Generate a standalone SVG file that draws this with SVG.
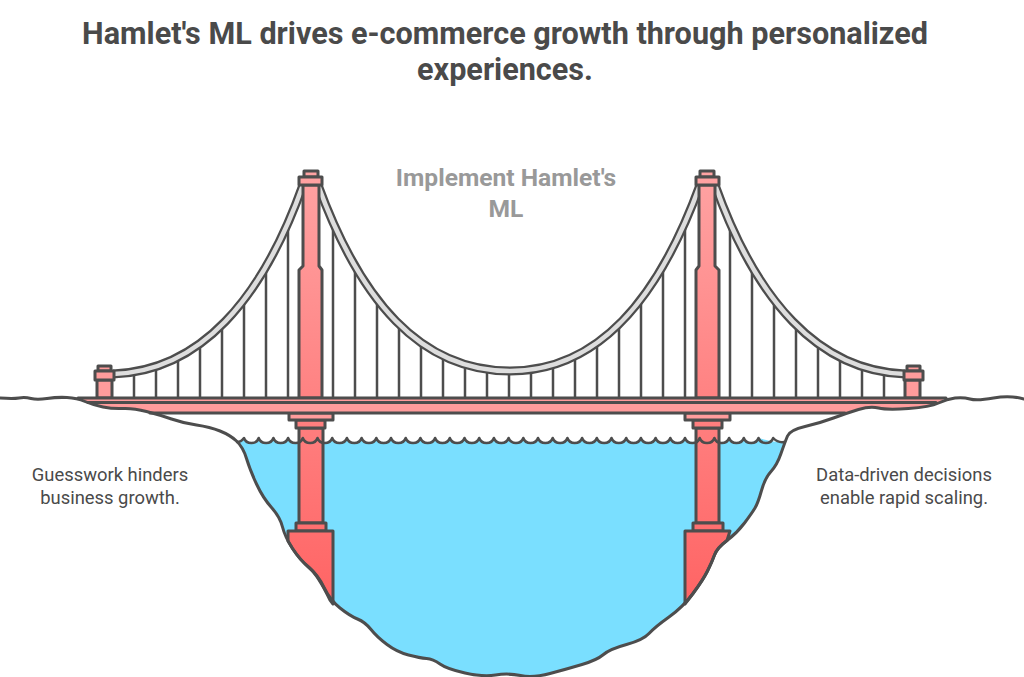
<svg xmlns="http://www.w3.org/2000/svg" width="1024" height="677" viewBox="0 0 1024 677">
<style>
.s{stroke:#4d4d4d;stroke-width:3;stroke-linejoin:round;stroke-linecap:round}
.t{fill:url(#g)}
.d{fill:#ff9c9c}
.h{stroke:#4d4d4d;stroke-width:2.5;fill:none}
.co{fill:none;stroke:#4d4d4d;stroke-width:9;stroke-linecap:butt}
.ci{fill:none;stroke:#dedede;stroke-width:4.5}
.ln{fill:none;stroke:#4d4d4d;stroke-width:3;stroke-linecap:round;stroke-linejoin:round}
text{font-family:Roboto,"Liberation Sans",sans-serif;text-anchor:middle}
.title{font-size:30.6px;font-weight:700;fill:#4a4a4a}
.lab{font-size:24.6px;font-weight:700;fill:#999}
.b{font-size:18.4px;fill:#4a4a4a}
</style>
<defs>
<linearGradient id="g" gradientUnits="userSpaceOnUse" x1="0" y1="170" x2="0" y2="604"><stop offset="0" stop-color="#ffa3a3"/><stop offset="1" stop-color="#ff6464"/></linearGradient>
<path id="c" d="M113 374C200 371 262 300 303 185M318 185C360 300 420 371 510 371C598 371 658 300 700 185M715 185C756 300 818 371 905 374"/>
<path id="w" d="M237 442Q241 442 244 438c1 3 3 5 7.35 5s6.35-2 7.35-5c1 3 3 5 7.35 5s6.35-2 7.35-5c1 3 3 5 7.35 5s6.35-2 7.35-5c1 3 3 5 7.35 5s6.35-2 7.35-5c1 3 3 5 7.35 5s6.35-2 7.35-5c1 3 3 5 7.35 5s6.35-2 7.35-5c1 3 3 5 7.35 5s6.35-2 7.35-5c1 3 3 5 7.35 5s6.35-2 7.35-5c1 3 3 5 7.35 5s6.35-2 7.35-5c1 3 3 5 7.35 5s6.35-2 7.35-5c1 3 3 5 7.35 5s6.35-2 7.35-5c1 3 3 5 7.35 5s6.35-2 7.35-5c1 3 3 5 7.35 5s6.35-2 7.35-5c1 3 3 5 7.35 5s6.35-2 7.35-5c1 3 3 5 7.35 5s6.35-2 7.35-5c1 3 3 5 7.35 5s6.35-2 7.35-5c1 3 3 5 7.35 5s6.35-2 7.35-5c1 3 3 5 7.35 5s6.35-2 7.35-5c1 3 3 5 7.35 5s6.35-2 7.35-5c1 3 3 5 7.35 5s6.35-2 7.35-5c1 3 3 5 7.35 5s6.35-2 7.35-5c1 3 3 5 7.35 5s6.35-2 7.35-5c1 3 3 5 7.35 5s6.35-2 7.35-5c1 3 3 5 7.35 5s6.35-2 7.35-5c1 3 3 5 7.35 5s6.35-2 7.35-5c1 3 3 5 7.35 5s6.35-2 7.35-5c1 3 3 5 7.35 5s6.35-2 7.35-5c1 3 3 5 7.35 5s6.35-2 7.35-5c1 3 3 5 7.35 5s6.35-2 7.35-5c1 3 3 5 7.35 5s6.35-2 7.35-5c1 3 3 5 7.35 5s6.35-2 7.35-5c1 3 3 5 7.35 5s6.35-2 7.35-5c1 3 3 5 7.35 5s6.35-2 7.35-5c1 3 3 5 7.35 5s6.35-2 7.35-5c1 3 3 5 7.35 5s6.35-2 7.35-5c1 3 3 5 7.35 5s6.35-2 7.35-5Q778 443 784 442"/>
</defs>
<rect width="1024" height="677" fill="#fff"/>
<g id="title">
<text class="title" x="505" y="44">Hamlet's ML drives e-commerce growth through personalized</text>
<text class="title" x="505" y="80">experiences.</text>
</g>
<g id="water"><path fill="#7adfff" d="M237 442Q241 442 244 438c1 3 3 5 7.35 5s6.35-2 7.35-5c1 3 3 5 7.35 5s6.35-2 7.35-5c1 3 3 5 7.35 5s6.35-2 7.35-5c1 3 3 5 7.35 5s6.35-2 7.35-5c1 3 3 5 7.35 5s6.35-2 7.35-5c1 3 3 5 7.35 5s6.35-2 7.35-5c1 3 3 5 7.35 5s6.35-2 7.35-5c1 3 3 5 7.35 5s6.35-2 7.35-5c1 3 3 5 7.35 5s6.35-2 7.35-5c1 3 3 5 7.35 5s6.35-2 7.35-5c1 3 3 5 7.35 5s6.35-2 7.35-5c1 3 3 5 7.35 5s6.35-2 7.35-5c1 3 3 5 7.35 5s6.35-2 7.35-5c1 3 3 5 7.35 5s6.35-2 7.35-5c1 3 3 5 7.35 5s6.35-2 7.35-5c1 3 3 5 7.35 5s6.35-2 7.35-5c1 3 3 5 7.35 5s6.35-2 7.35-5c1 3 3 5 7.35 5s6.35-2 7.35-5c1 3 3 5 7.35 5s6.35-2 7.35-5c1 3 3 5 7.35 5s6.35-2 7.35-5c1 3 3 5 7.35 5s6.35-2 7.35-5c1 3 3 5 7.35 5s6.35-2 7.35-5c1 3 3 5 7.35 5s6.35-2 7.35-5c1 3 3 5 7.35 5s6.35-2 7.35-5c1 3 3 5 7.35 5s6.35-2 7.35-5c1 3 3 5 7.35 5s6.35-2 7.35-5c1 3 3 5 7.35 5s6.35-2 7.35-5c1 3 3 5 7.35 5s6.35-2 7.35-5c1 3 3 5 7.35 5s6.35-2 7.35-5c1 3 3 5 7.35 5s6.35-2 7.35-5c1 3 3 5 7.35 5s6.35-2 7.35-5c1 3 3 5 7.35 5s6.35-2 7.35-5c1 3 3 5 7.35 5s6.35-2 7.35-5c1 3 3 5 7.35 5s6.35-2 7.35-5c1 3 3 5 7.35 5s6.35-2 7.35-5Q778 443 784 442L781 453.5Q777 465 771 471.5Q765 478 761.5 490.5Q758 503 755 508Q752 513 744.5 523Q737 533 727 540.5Q717 548 714.5 555Q712 562 707.5 571Q703 580 693 593.5Q683 607 669 617Q655 627 649 633.5Q643 640 626.5 644.5Q610 649 603.5 654.5Q597 660 582 664.5Q567 669 550 673.5Q533 678 520.5 675.5Q508 673 495.5 675Q483 677 465 673Q447 669 440 664Q433 659 426.5 658.5Q420 658 408.5 655Q397 652 387 644.5Q377 637 371 629.5Q365 622 357.5 619Q350 616 340 608Q330 600 324 587.5Q318 575 309 567.5Q300 560 292.5 548.5Q285 537 282.5 527Q280 517 271.5 507.5Q263 498 256.5 484Q250 470 246.5 458.5Q243 447 237 442Z"/></g>
<g id="hangers">
<path class="h" d="M134 398V372M156 398V366M178 398V357M200 398V344M222 398V325M244 398V302M266 398V267M288 398V225M333 398V225M355 398V267M377 398V300M399 398V324M421 398V342M443 398V355M465 398V364M487 398V369M509 398V371M531 398V369M553 398V364M575 398V355M597 398V342M619 398V324M641 398V300M663 398V267M685 398V225M730 398V225M752 398V267M774 398V302M796 398V325M818 398V344M840 398V357M862 398V366M884 398V372"/>
</g>
<g id="cables"><use href="#c" class="co"/><use href="#c" class="ci"/></g>
<g id="tower-left">
<path class="s t" d="M303 185H319V266L322 270V398H299V270L303 266Z"/>
<rect class="s t" x="304" y="171" width="14" height="6"/>
<rect class="s t" x="299" y="177" width="23" height="8"/>
<path class="s t" d="M299 428H323V523H299Z"/>
<rect class="s t" x="296" y="420" width="29" height="8"/>
<rect class="s d" x="289" y="413" width="44" height="7"/>
<rect class="s t" x="296" y="523" width="30" height="8"/>
<path class="s t" d="M288 531H333V604L330 600Q318 575 309 567.5Q300 560 292.5 548.5L288 541Z"/>
</g>
<g id="tower-right">
<path class="s t" d="M699 185H715V266L719 270V398H696V270L699 266Z"/>
<rect class="s t" x="700" y="171" width="14" height="6"/>
<rect class="s t" x="696" y="177" width="23" height="8"/>
<path class="s t" d="M696 428H719V523H696Z"/>
<rect class="s t" x="693" y="420" width="29" height="8"/>
<rect class="s d" x="685" y="413" width="45" height="7"/>
<rect class="s t" x="693" y="523" width="30" height="8"/>
<path class="s t" d="M685 531H730L727 540.5Q717 548 714.5 555Q712 562 707.5 571Q703 580 693 593.5L685 604Z"/>
</g>
<g id="anchor-left">
<rect class="s d" x="97" y="380" width="15" height="18"/>
<rect class="s d" x="98" y="366" width="13" height="5"/>
<rect class="s d" x="95" y="371" width="19" height="9"/>
</g>
<g id="anchor-right">
<rect class="s d" x="905" y="380" width="15" height="18"/>
<rect class="s d" x="907" y="366" width="13" height="5"/>
<rect class="s d" x="904" y="371" width="19" height="9"/>
</g>
<g id="deck">
<path class="d" d="M80 398H945L938.5 403Q930 407 908.5 408.5Q887 410 878.5 408Q870 406 858.5 409.5L845 413H150Q133 408 123 408.5Q113 409 103 407Q93 405 85 401.5Z"/>
<path class="ln" d="M78 398H946M88 402.5H936M150 413H845"/>
</g>
<g id="terrain">
<use href="#w" class="ln" style="stroke-width:2.5"/>
<path class="ln" d="M0 398Q13 399 19 398Q25 397 31 398.5Q37 400 47 398.5Q57 397 67 397.5Q77 398 85 401.5Q93 405 103 407Q113 409 123 408.5Q133 408 146.5 411.5Q160 415 171.5 419Q183 423 196.5 425Q210 427 220 431Q230 435 236.5 441Q243 447 246.5 458.5Q250 470 256.5 484Q263 498 271.5 507.5Q280 517 282.5 527Q285 537 292.5 548.5Q300 560 309 567.5Q318 575 324 587.5Q330 600 340 608Q350 616 357.5 619Q365 622 371 629.5Q377 637 387 644.5Q397 652 408.5 655Q420 658 426.5 658.5Q433 659 440 664Q447 669 465 673Q483 677 495.5 675Q508 673 520.5 675.5Q533 678 550 673.5Q567 669 582 664.5Q597 660 603.5 654.5Q610 649 626.5 644.5Q643 640 649 633.5Q655 627 669 617Q683 607 693 593.5Q703 580 707.5 571Q712 562 714.5 555Q717 548 727 540.5Q737 533 744.5 523Q752 513 755 508Q758 503 761.5 490.5Q765 478 771 471.5Q777 465 781 453.5Q785 442 787.5 436Q790 430 805 426.5Q820 423 833.5 418Q847 413 858.5 409.5Q870 406 878.5 408Q887 410 908.5 408.5Q930 407 938.5 403Q947 399 955 398Q963 397 970 399Q977 401 993.5 398Q1010 395 1024 399"/>
</g>
<g id="label-center"><text class="lab" x="506" y="186">Implement Hamlet's</text><text class="lab" x="506" y="217">ML</text></g>
<g id="label-left"><text class="b" x="110" y="481">Guesswork hinders</text><text class="b" x="110" y="504">business growth.</text></g>
<g id="label-right"><text class="b" x="904" y="481">Data-driven decisions</text><text class="b" x="904" y="504">enable rapid scaling.</text></g>
</svg>
